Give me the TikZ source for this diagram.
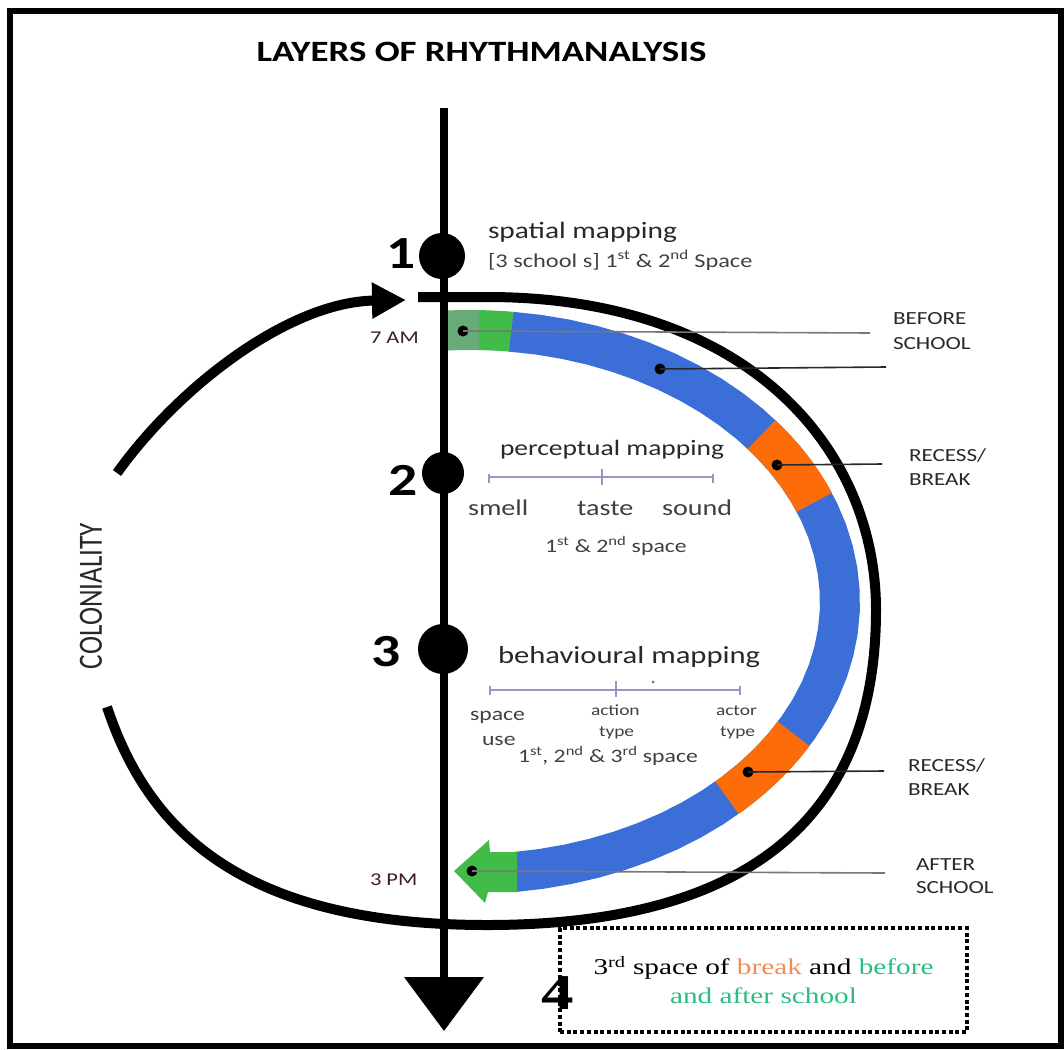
\documentclass[tikz,border=0pt]{standalone}
\usepackage{fontspec}
\setmainfont{Carlito}[FakeStretch=1.25]
\newfontfamily\upfont{Carlito}[FakeStretch=0.8]
\newfontfamily\boxfont{Liberation Serif}[FakeStretch=1.3]
\usetikzlibrary{arrows.meta}

\definecolor{bandblue}{RGB}{60,110,215}
\definecolor{bandorange}{RGB}{252,108,8}
\definecolor{bandgreen}{RGB}{66,188,72}
\definecolor{palegreen}{RGB}{104,170,120}
\definecolor{scalelav}{RGB}{150,150,200}
\definecolor{txtdark}{RGB}{40,40,40}
\definecolor{txtmid}{RGB}{64,64,64}
\definecolor{leadgray}{RGB}{120,120,120}
\definecolor{breakorange}{RGB}{240,140,90}
\definecolor{schoolgreen}{RGB}{40,190,130}
\definecolor{clockred}{RGB}{60,30,30}

% one piece of the coloured day band (ellipse arc, angles in degrees)
\newcommand\dayband[3]{%
  \draw[bandpiece,#1] plot[domain=#2:#3,samples=40]
    ({470+370*cos(\x)},{602+272*sin(\x)});}

\begin{document}
\begin{tikzpicture}[x=1pt,y=-1pt,
  every node/.style={inner sep=0pt,outer sep=0pt},
  bandpiece/.style={line width=40pt},
  ringline/.style={line width=10pt,black},
  axisline/.style={line width=8pt,black,-{Triangle[length=54pt,width=78pt]}},
  bigdot/.style={circle,fill=black,minimum size=#1},
  smalldot/.style={circle,fill=black,minimum size=11pt},
  leader/.style={line width=1.6pt,draw=#1},
  scalebar/.style={line width=2.4pt,draw=scalelav},
  num/.style={font=\fontsize{46}{50}\selectfont\bfseries,text=black},
  lbl/.style={anchor=base west,font=\fontsize{18.5}{22}\selectfont,text=txtdark},
  head/.style={anchor=base west,text=txtdark},
  sense/.style={anchor=base west,font=\fontsize{22.5}{26}\selectfont,text=txtmid},
  clock/.style={anchor=base west,font=\fontsize{18}{22}\selectfont,text=clockred},
  boxline/.style={draw=black,line width=4pt,dash pattern=on 4pt off 2.7pt}
]
\useasboundingbox (0,0) rectangle (1064,1049);

% outer frame
\draw[line width=6pt] (10,11.5) rectangle (1061,1046);

% title
\node[anchor=base,font=\fontsize{29.5}{34}\selectfont\bfseries] (title) at (481.5,62) {LAYERS OF RHYTHMANALYSIS};

% the school-day band
\dayband{palegreen}{-93.6}{-88.5}
\dayband{bandgreen}{-88.6}{-83.5}
\dayband{bandblue}{-83.6}{83.2}
\dayband{bandorange}{-38}{-21.5}
\dayband{bandorange}{29}{46}
\fill[bandgreen] (517,852) -- (490,852) -- (489,840) -- (454,871)
  -- (485,903) -- (488,892) -- (517,892) -- cycle;

% coloniality ring (rounded quarters) and its returning arrow
\draw[ringline] (418,297) -- (487,297)
  .. controls (750,297) and (876,450) .. (876,610)
  .. controls (876,818) and (749,925) .. (487,925)
  .. controls (237,925) and (147,827) .. (107,707);
\draw[ringline,-{Triangle[length=34pt,width=34pt]}] (117,473)
  .. controls (180,385) and (290,302) .. (406,300);
\node[rotate=90,font=\upfont\fontsize{34}{38}\selectfont,text=txtdark] (colon) at (91,596) {COLONIALITY};

% time axis with the three mapping layers
\coordinate (axtop) at (444,108);
\coordinate (axend) at (444,1031);
\draw[axisline] (axtop) -- (axend);
\node[bigdot=46pt] (d1) at (442,256) {};
\node[bigdot=42pt] (d2) at (443,473) {};
\node[bigdot=50pt] (d3) at (443,649) {};
\node[num] (n1) at (401,254) {1};
\node[num] (n2) at (403,480) {2};
\node[num] (n3) at (386,652) {3};
\node[num,font=\boxfont\fontsize{50}{52}\selectfont\bfseries] (n4) at (558,993) {4};

% clock times
\node[clock] (am) at (370,343) {7 AM};
\node[clock] (pm) at (370,885) {3 PM};

% layer 1
\node[head,font=\fontsize{23.5}{27}\selectfont] (spatial) at (488,238) {spatial mapping};
\node[head,font=\fontsize{19.5}{23}\selectfont,text=txtmid] (spatial2) at (488,267)
  {[3 school s] 1\textsuperscript{st} \& 2\textsuperscript{nd} Space};

% layer 2
\node[head,font=\fontsize{22}{26}\selectfont] (percep) at (500,455) {perceptual mapping};
\coordinate (ps) at (489,477);
\coordinate (pe) at (713,477);
\draw[scalebar] (ps) -- (pe);
\draw[scalebar] (489,474) -- (489,483);
\draw[scalebar] (602,469) -- (602,485);
\draw[scalebar] (713,474) -- (713,483);
\node[sense] (smell) at (468,515) {smell};
\node[sense] (taste) at (577,515) {taste};
\node[sense] (sound) at (662,515) {sound};
\node[head,font=\fontsize{19}{23}\selectfont,text=txtmid] (percep2) at (545,552)
  {1\textsuperscript{st} \& 2\textsuperscript{nd} space};

% layer 3
\node[head,font=\fontsize{24.5}{28}\selectfont] (behav) at (498,663) {behavioural mapping};
\coordinate (bs) at (490,690);
\coordinate (be) at (740,690);
\draw[scalebar] (bs) -- (be);
\draw[scalebar] (490,686) -- (490,695);
\draw[scalebar] (616,681) -- (616,697);
\draw[scalebar] (740,686) -- (740,695);
\fill[scalelav!70!black] (653,682) circle (1.5pt);
\node[head,font=\fontsize{19}{22}\selectfont,text=txtmid] (space) at (470,720) {space};
\node[head,font=\fontsize{19}{22}\selectfont,text=txtmid] (use) at (482,745) {use};
\node[head,font=\fontsize{15.5}{18}\selectfont,text=txtmid] (action) at (591,715) {action};
\node[head,font=\fontsize{15.5}{18}\selectfont,text=txtmid] (atype) at (599,736) {type};
\node[head,font=\fontsize{15.5}{18}\selectfont,text=txtmid] (actor) at (716,715) {actor};
\node[head,font=\fontsize{15.5}{18}\selectfont,text=txtmid] (ctype) at (720,736) {type};
\node[head,font=\fontsize{19}{23}\selectfont,text=txtmid] (behav2) at (518,762)
  {1\textsuperscript{st}, 2\textsuperscript{nd} \& 3\textsuperscript{rd} space};

% markers on the band and their leaders
\node[smalldot] (pgreen) at (463,331) {};
\node[smalldot] (pblue) at (660,369) {};
\node[smalldot] (porange1) at (777,465) {};
\node[smalldot] (porange2) at (748,772) {};
\node[smalldot] (pafter) at (472,871) {};
\coordinate (egreen) at (870,333);
\coordinate (eblue) at (886,367);
\coordinate (eorange1) at (882,464);
\coordinate (eorange2) at (884,771);
\coordinate (eafter) at (885,873);
\draw[leader=leadgray] (pgreen.center) -- (egreen);
\draw[leader=txtdark] (pblue.center) -- (eblue);
\draw[leader=txtdark] (porange1.center) -- (eorange1);
\draw[leader=txtdark] (porange2.center) -- (eorange2);
\draw[leader=leadgray] (pafter.center) -- (eafter);

% period labels
\node[lbl] (before1) at (893,324) {BEFORE};
\node[lbl] (before2) at (893,349) {SCHOOL};
\node[lbl] (recess1) at (909,461) {RECESS/};
\node[lbl] (recess2) at (909,485) {BREAK};
\node[lbl] (recess3) at (908,771) {RECESS/};
\node[lbl] (recess4) at (908,795) {BREAK};
\node[lbl] (after1) at (916,870) {AFTER};
\node[lbl] (after2) at (916,893) {SCHOOL};

% layer 4 box
\node[boxline,minimum width=407pt,minimum height=104pt,align=center,
  font=\boxfont\fontsize{22.5}{29}\selectfont] (box) at (763.5,980)
  {3\textsuperscript{rd} space of \textcolor{breakorange}{break} and \textcolor{schoolgreen}{before}\\
   \textcolor{schoolgreen}{and after school}};
\end{tikzpicture}
\end{document}
